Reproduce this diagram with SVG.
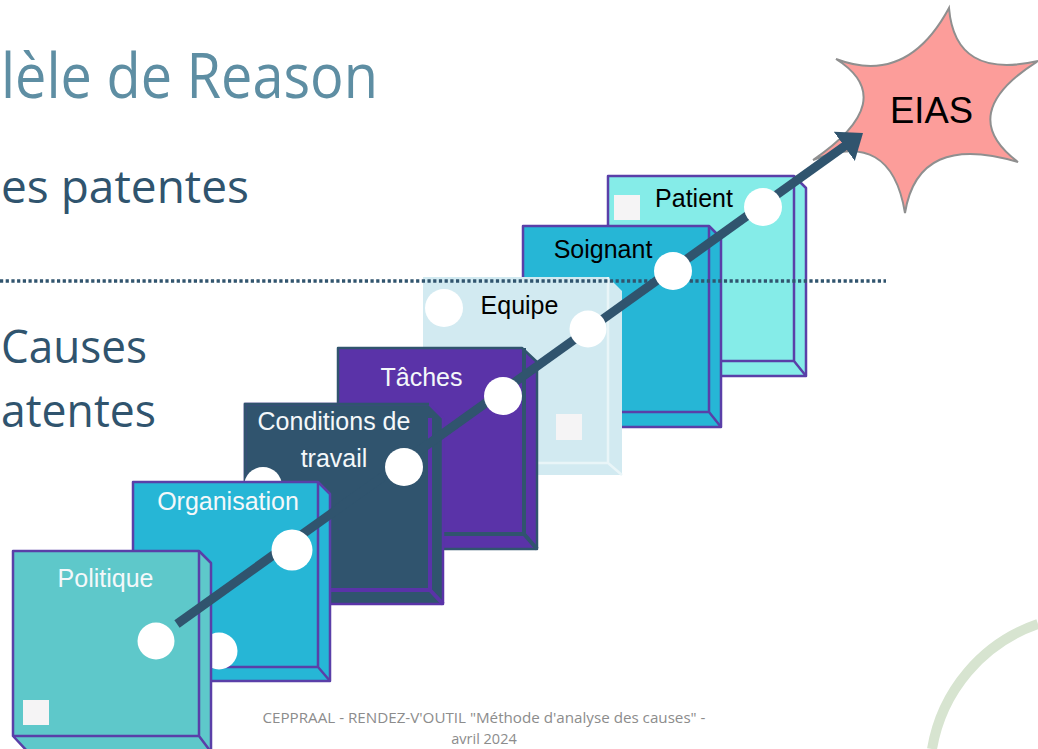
<svg xmlns="http://www.w3.org/2000/svg" width="1038" height="749" viewBox="0 0 1038 749">
<style>
.o{font-family:"Open Sans",sans-serif}
.title{font-size:62px;fill:#5e8ea3}
.body{font-size:46px;fill:#30546e}
.foot{font-size:14.500px;fill:#8c8c8c;text-anchor:middle}
.lab{font-family:"Liberation Sans",Arial,sans-serif;font-size:25px;text-anchor:middle}
.w{fill:#f4f8fa}.k{fill:#000}
.sq{fill:#f5f4f5}
.pt{fill:#fff}
.box{stroke-width:2.500;stroke-linejoin:round}
.in{fill:none;stroke-width:2.500}
.teal{fill:#5ec8ca;stroke:#5a3fa8}
.blue{fill:#26b6d6;stroke:#5a3fa8}
.dark{fill:#30546e;stroke:#5a33a8}
.purp{fill:#5a33a8;stroke:#30546e}
.pale{fill:#d2eaf1;stroke:none}
.aqua{fill:#85ece8;stroke:#5a3fa8}
</style>
<defs>
<marker id="ah" markerUnits="userSpaceOnUse" markerWidth="40" markerHeight="40" refX="15" refY="18" orient="auto"><path d="M0 0L23 18L0 36Z" fill="#30546e"/></marker>
</defs>
<rect width="1038" height="749" fill="#fff"/>
<g id="texts" class="o">
<text class="title" x="1" y="98" textLength="377" lengthAdjust="spacingAndGlyphs">lèle de Reason</text>
<text class="body" x="1" y="203" textLength="248" lengthAdjust="spacingAndGlyphs">es patentes</text>
<text class="body" x="1" y="363" textLength="146" lengthAdjust="spacingAndGlyphs">Causes</text>
<text class="body" x="1" y="427" textLength="155" lengthAdjust="spacingAndGlyphs">atentes</text>
<text class="foot" x="484" y="723" textLength="443" lengthAdjust="spacingAndGlyphs">CEPPRAAL - RENDEZ-V'OUTIL "Méthode d'analyse des causes" -</text>
<text class="foot" x="484" y="744">avril 2024</text>
</g>
<path id="arc" d="M932 749A160 160 0 0 1 1038 624" fill="none" stroke="#d7e4d0" stroke-width="10"/>
<g id="eias">
<path d="M836 59Q907 86 949 8Q955 80 1038 61Q954 114 1018 162Q918 132 905 213Q891 128 813 160Q901 100 836 59Z" fill="#fc9d9a" stroke="#8f8f8f" stroke-width="2"/>
<text class="lab k" style="font-size:36.400px" x="931.500" y="123">EIAS</text>
</g>
<g id="patient">
<path class="box aqua" d="M608 176H794L806 188V376H620L608 361Z"/>
<path class="in aqua" style="fill:none" d="M794 176V361H608M794 361L806 376"/>
<rect class="sq" x="614" y="195" width="26" height="25"/>
<text class="lab k" x="694" y="207">Patient</text>
</g>
<g id="soignant">
<path class="box blue" d="M523 226H709L721 238V427H535L523 412Z"/>
<path class="in blue" style="fill:none" d="M709 226V412H523M709 412L721 427"/>
<text class="lab k" x="603" y="258">Soignant</text>
</g>
<g id="equipe">
<path class="box pale" d="M423 277H608L622 291V475H437L423 463Z"/>
<path class="in" stroke="#e9f5f8" d="M608 277V463H423M608 463L622 475"/>
<circle class="pt" cx="444" cy="308" r="19"/>
<rect class="sq" x="556" y="414" width="26" height="26"/>
<text class="lab k" x="519.500" y="314">Equipe</text>
</g>
<g id="taches">
<path class="box purp" d="M338 348H522L537 362V549H352L338 534Z"/>
<path class="in" stroke="#30546e" style="stroke-width:4" d="M524 348V534H338M524 534L537 549"/>
<text class="lab w" x="421.500" y="386">Tâches</text>
</g>
<g id="conditions">
<path class="box dark" d="M245 404H429L443 418V604H259L245 590Z"/>
<path class="in" stroke="#5a33a8" style="stroke-width:4" d="M430 418V590H245M430 590L443 604"/>
<path class="in" stroke="#30546e" d="M245 590V404H429"/>
<circle class="pt" cx="263" cy="486" r="19"/>
<text class="lab w" x="334" y="430">Conditions de</text>
<text class="lab w" x="334" y="467">travail</text>
</g>
<g id="organisation">
<path class="box blue" d="M133 482H318L330 494V681H146L133 667Z"/>
<path class="in blue" style="fill:none" d="M318 482V667H133M318 667L330 681"/>
<circle class="pt" cx="219" cy="651" r="18.500"/>
<text class="lab w" x="228" y="510">Organisation</text>
</g>
<g id="politique">
<path class="box teal" d="M13 551H199L211 563V752H28L13 736Z"/>
<path class="in teal" style="fill:none" d="M199 551V736H13M199 736L211 752"/>
<rect class="sq" x="23" y="700" width="26" height="25"/>
<text class="lab w" x="105.500" y="587">Politique</text>
</g>
<g id="connectors">
<path d="M0 281H886" fill="none" stroke="#30546e" stroke-width="3.500" stroke-dasharray="3.200 2.500"/>
<path d="M177 624L856.500 137.600" fill="none" stroke="#30546e" stroke-width="9" marker-end="url(#ah)"/>
</g>
<g id="points">
<circle class="pt" cx="156" cy="641" r="18.500"/>
<circle class="pt" cx="292" cy="550" r="20.500"/>
<circle class="pt" cx="404" cy="467" r="19"/>
<circle class="pt" cx="503" cy="396" r="19"/>
<circle class="pt" cx="588" cy="329" r="18.500"/>
<circle class="pt" cx="673" cy="271" r="19"/>
<circle class="pt" cx="763" cy="207" r="19"/>
</g>
</svg>
